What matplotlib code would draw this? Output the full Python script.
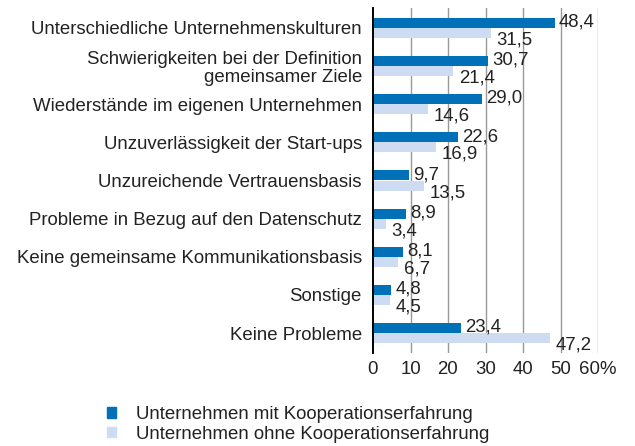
import numpy as np
import matplotlib
matplotlib.use("Agg")
import matplotlib.pyplot as plt

plt.rcParams["font.family"] = ["Liberation Sans", "DejaVu Sans"]

# data
categories = [
    "Unterschiedliche Unternehmenskulturen",
    "Schwierigkeiten bei der Definition\ngemeinsamer Ziele",
    "Wiederstände im eigenen Unternehmen",
    "Unzuverlässigkeit der Start-ups",
    "Unzureichende Vertrauensbasis",
    "Probleme in Bezug auf den Datenschutz",
    "Keine gemeinsame Kommunikationsbasis",
    "Sonstige",
    "Keine Probleme",
]
mit_erfahrung = [48.4, 30.7, 29.0, 22.6, 9.7, 8.9, 8.1, 4.8, 23.4]
ohne_erfahrung = [31.5, 21.4, 14.6, 16.9, 13.5, 3.4, 6.7, 4.5, 47.2]
series_labels = ["Unternehmen mit Kooperationserfahrung",
                 "Unternehmen ohne Kooperationserfahrung"]
x_ticks = [0, 10, 20, 30, 40, 50, 60]
x_ticklabels = ["0", "10", "20", "30", "40", "50", "60%"]

dark = "#0071b8"
light = "#cddcf3"
fs = 13.4

fig = plt.figure(figsize=(6.35, 4.46), dpi=100)
ax = fig.add_axes([373 / 635, 1 - 353 / 446, (598 - 373) / 635, (353 - 8) / 446])

y = np.arange(len(categories))
h = 0.265
ax.barh(y - h / 2, mit_erfahrung, height=h, color=dark, zorder=3)
ax.barh(y + h / 2, ohne_erfahrung, height=h, color=light, zorder=3)

def fmt(v):
    return f"{v:.1f}".replace(".", ",")

for yi, v in zip(y, mit_erfahrung):
    ax.annotate(fmt(v), (v, yi - h / 2), xytext=(3, 0.5), textcoords="offset points",
                va="center", ha="left", fontsize=fs, color="#222222")
for yi, v in zip(y, ohne_erfahrung):
    ax.annotate(fmt(v), (v, yi + h / 2), xytext=(4, -5), textcoords="offset points",
                va="center", ha="left", fontsize=fs, color="#222222")

ax.set_ylim(8.52, -0.52)
ax.set_xlim(0, 60)
ax.set_yticks(y)
ax.set_yticklabels(categories, fontsize=fs, ha="right", color="#222222", linespacing=1.05)
ax.set_xticks(x_ticks)
ax.set_xticklabels(x_ticklabels, fontsize=fs, color="#222222")
ax.tick_params(axis="y", length=0, pad=8)
ax.tick_params(axis="x", length=0, pad=6)

for xv in x_ticks[1:]:
    ax.axvline(xv, color="#999999", linewidth=1, zorder=1)

for s in ["top", "right", "bottom"]:
    ax.spines[s].set_visible(False)
ax.spines["left"].set_linewidth(1.4)
ax.spines["left"].set_color("black")
ax.spines["left"].set_zorder(4)

handles = [plt.Rectangle((0, 0), 1, 1, color=dark), plt.Rectangle((0, 0), 1, 1, color=light)]
fig.legend(handles, series_labels, loc="upper left", bbox_to_anchor=(107 / 635, 1 - 406 / 446),
           frameon=False, fontsize=fs, handlelength=0.5, handleheight=0.5, borderpad=0,
           borderaxespad=0, handletextpad=1.05, labelspacing=0.15, labelcolor="#222222")

fig.savefig("out.png", dpi=100)
